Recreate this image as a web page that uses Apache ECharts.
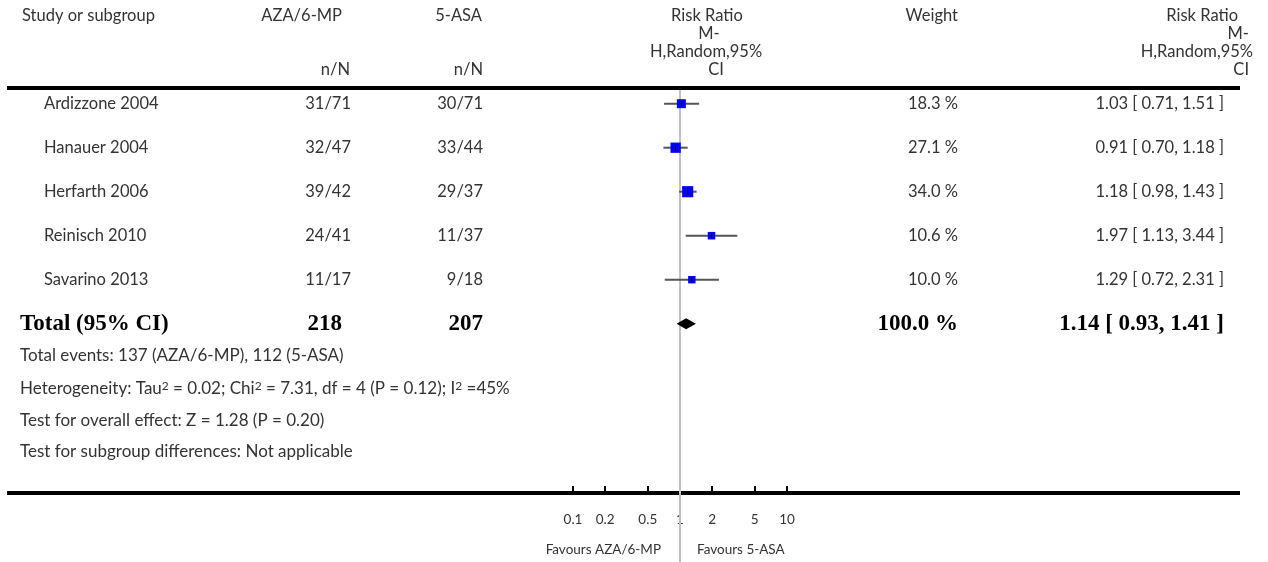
<!DOCTYPE html>
<html>
<head>
<meta charset="utf-8">
<script src="https://cdn.jsdelivr.net/npm/echarts@6/dist/echarts.min.js"></script>
<style>
html, body { margin: 0; padding: 0; background: #fff; }
#chart { width: 1268px; height: 562px; }
</style>
</head>
<body>
<div id="chart"></div>
<script>
// forest plot: AZA/6-MP vs 5-ASA
const studies = ['Ardizzone 2004', 'Hanauer 2004', 'Herfarth 2006', 'Reinisch 2010', 'Savarino 2013']
const azaEvents = ['31/71', '32/47', '39/42', '24/41', '11/17']
const asaEvents = ['30/71', '33/44', '29/37', '11/37', '9/18']
const ratios = [1.03, 0.91, 1.18, 1.97, 1.29]
const lower = [0.71, 0.70, 0.98, 1.13, 0.72]
const upper = [1.51, 1.18, 1.43, 3.44, 2.31]
const weights = [18.3, 27.1, 34.0, 10.6, 10.0]
const totalN = ['218', '207']
const totalRatio = [1.14, 0.93, 1.41]
const totalWeight = 100.0
const tickValues = [0.1, 0.2, 0.5, 1, 2, 5, 10]
const tickLabels = ['0.1', '0.2', '0.5', '1', '2', '5', '10']
const footnotes = [
    'Total events: 137 (AZA/6-MP), 112 (5-ASA)',
    'Heterogeneity: Tau{sup|2} = 0.02; Chi{sup|2} = 7.31, df = 4 (P = 0.12); I{sup|2} =45%',
    'Test for overall effect: Z = 1.28 (P = 0.20)',
    'Test for subgroup differences: Not applicable'
]

// layout
const ROW0 = 103.7
const ROW_H = 44
const AXIS_Y = 493
const HEAD_Y = 88
const TXT = '#333'
const FONT = '16.5px Lato'
const FOOT_FONT = '17px Lato'
const BOLD = 'bold 23px "Liberation Serif"'

const rowY = i => ROW0 + ROW_H * i

function txt(x, y, text, align, font, color, rich) {
    return {
        type: 'text', x: x, y: y, silent: true,
        style: {
            text: text, font: font || FONT, fill: color || TXT,
            align: align || 'left', verticalAlign: 'middle', rich: rich
        }
    }
}
function hline(y, w) {
    return { type: 'line', silent: true, shape: { x1: 7, y1: y, x2: 1240, y2: y }, style: { stroke: '#000', lineWidth: w } }
}

const fmt = v => v.toFixed(2)
const graphics = [
    hline(HEAD_Y, 4),
    hline(AXIS_Y, 4),
    txt(22, 16, 'Study or subgroup'),
    txt(342, 16, 'AZA/6-MP', 'right'),
    txt(350, 70, 'n/N', 'right'),
    txt(482, 16, '5-ASA', 'right'),
    txt(483, 70, 'n/N', 'right'),
    txt(707, 16, 'Risk Ratio', 'center'),
    txt(709, 34, 'M-', 'center'),
    txt(706, 52, 'H,Random,95%', 'center'),
    txt(716, 70, 'CI', 'center'),
    txt(958, 16, 'Weight', 'right'),
    txt(1238, 16, 'Risk Ratio', 'right'),
    txt(1249, 34, 'M-', 'right'),
    txt(1253, 52, 'H,Random,95%', 'right'),
    txt(1249, 70, 'CI', 'right'),
    txt(661, 550, 'Favours AZA/6-MP', 'right', '13.5px Lato'),
    txt(697, 550, 'Favours 5-ASA', 'left', '13.5px Lato')
]
studies.forEach((s, i) => {
    const y = rowY(i)
    graphics.push(txt(44, y, s))
    graphics.push(txt(351, y, azaEvents[i], 'right'))
    graphics.push(txt(483, y, asaEvents[i], 'right'))
    graphics.push(txt(958, y, weights[i].toFixed(1) + ' %', 'right'))
    graphics.push(txt(1224, y, fmt(ratios[i]) + ' [ ' + fmt(lower[i]) + ', ' + fmt(upper[i]) + ' ]', 'right'))
})
const ty = rowY(studies.length)
graphics.push(txt(20, ty, 'Total (95% CI)', 'left', BOLD, '#000'))
graphics.push(txt(342, ty, totalN[0], 'right', BOLD, '#000'))
graphics.push(txt(483, ty, totalN[1], 'right', BOLD, '#000'))
graphics.push(txt(958, ty, totalWeight.toFixed(1) + ' %', 'right', BOLD, '#000'))
graphics.push(txt(1224, ty, fmt(totalRatio[0]) + ' [ ' + fmt(totalRatio[1]) + ', ' + fmt(totalRatio[2]) + ' ]', 'right', BOLD, '#000'))
const footY = [356, 388.5, 420.5, 451.5]
footnotes.forEach((f, i) => {
    graphics.push(txt(20, footY[i], f, 'left', FOOT_FONT, TXT, {
        sup: { fontSize: 12, fontFamily: 'Lato', fill: TXT, verticalAlign: 'top', lineHeight: 12 }
    }))
})

const chart = echarts.init(document.getElementById('chart'), null, { renderer: 'canvas' })
const option = {
    animation: false,
    grid: { left: 573, width: 214, top: ROW0 - ROW_H, height: AXIS_Y - (ROW0 - ROW_H) },
    xAxis: {
        type: 'log', logBase: 10, min: 0.1, max: 10,
        axisLine: { show: false, onZero: false },
        splitLine: { show: false },
        axisTick: { show: true, inside: true, length: 7, customValues: tickValues, lineStyle: { color: '#000', width: 2 } },
        axisLabel: {
            customValues: tickValues, margin: 20, color: TXT, fontSize: 13.5, fontFamily: 'Lato',
            formatter: function (v) {
                const i = tickValues.findIndex(t => Math.abs(t - v) / t < 1e-6)
                return i >= 0 ? tickLabels[i] : ''
            }
        }
    },
    yAxis: { type: 'value', inverse: true, min: -1, max: (AXIS_Y - ROW0) / ROW_H, show: false },
    series: [
        {   // 无效线 (RR = 1)
            type: 'custom', z: 1, clip: false, silent: true,
            data: [[1, 0]],
            renderItem: function (params, api) {
                const x = api.coord([api.value(0), 0])[0]
                return { type: 'line', shape: { x1: x, y1: HEAD_Y + 2, x2: x, y2: 562 }, style: { stroke: '#c0c0c0', lineWidth: 2 } }
            }
        },
        {   // 各研究
            type: 'custom', z: 2, clip: false, silent: true,
            encode: { x: [0, 1, 2], y: 4 },
            data: studies.map((s, i) => [ratios[i], lower[i], upper[i], weights[i], i]),
            renderItem: function (params, api) {
                const row = api.value(4)
                const p = api.coord([api.value(0), row])
                const l = api.coord([api.value(1), row])
                const h = api.coord([api.value(2), row])
                const size = 3 + Math.sqrt(api.value(3)) * 1.4
                return {
                    type: 'group',
                    children: [
                        { type: 'line', shape: { x1: l[0], y1: p[1], x2: h[0], y2: p[1] }, style: { stroke: '#555', lineWidth: 2 } },
                        { type: 'rect', shape: { x: p[0] - size / 2, y: p[1] - size / 2, width: size, height: size }, style: { fill: '#0000ff' } },
                        { type: 'line', shape: { x1: p[0], y1: p[1] - 2.5, x2: p[0], y2: p[1] + 2.5 }, style: { stroke: '#000', lineWidth: 1 } }
                    ]
                }
            }
        },
        {   // 合并效应
            type: 'custom', z: 3, clip: false, silent: true,
            encode: { x: [0, 1, 2], y: 3 },
            data: [[totalRatio[0], totalRatio[1], totalRatio[2], studies.length]],
            renderItem: function (params, api) {
                const row = api.value(3)
                const p = api.coord([api.value(0), row])
                const l = api.coord([api.value(1), row])
                const h = api.coord([api.value(2), row])
                return {
                    type: 'polygon',
                    shape: { points: [[l[0], p[1]], [p[0], p[1] - 5.5], [h[0], p[1]], [p[0], p[1] + 5.5]] },
                    style: { fill: '#000' }
                }
            }
        }
    ],
    graphic: graphics
}
chart.setOption(option)
</script>
</body>
</html>
